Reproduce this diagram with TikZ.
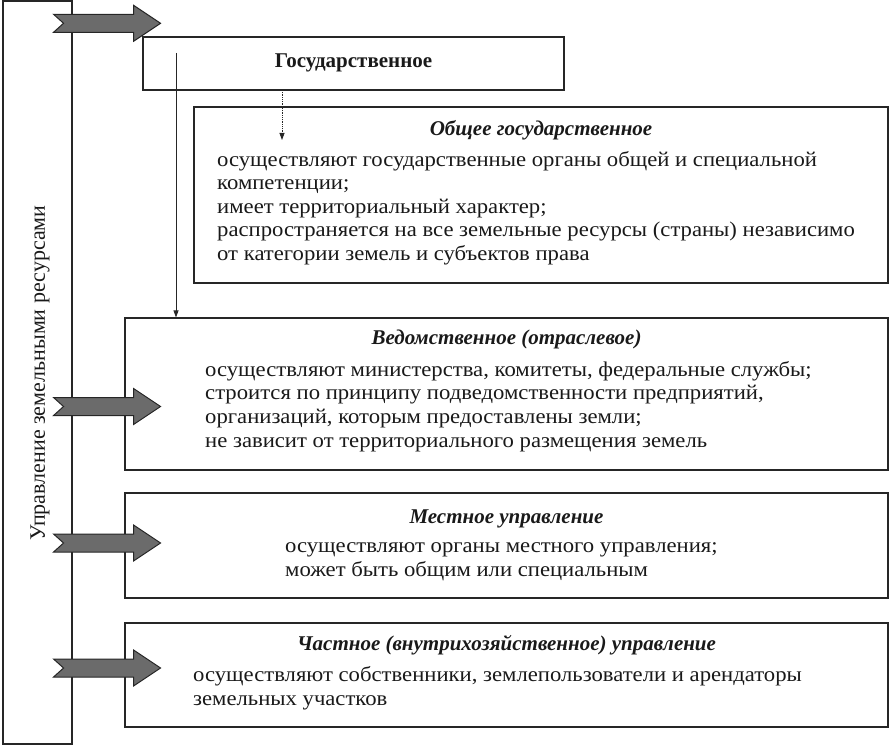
\documentclass[tikz,border=0pt]{standalone}
\usepackage{fontspec}
\setmainfont{Liberation Serif}
\newfontfamily\bodyfont[FakeStretch=1.08]{Liberation Serif}
\usetikzlibrary{arrows.meta}
\begin{document}
\begin{tikzpicture}[x=1pt,y=-1pt,
  box/.style={draw=black!85, line width=1.1pt, inner sep=0pt},
  bigarrow/.style={draw=black!85, fill=black!58, line width=1pt, line join=miter},
  ttl/.style={font=\fontsize{21}{23}\selectfont\bfseries\itshape, text=black!90, inner sep=0pt},
  body/.style={font=\bodyfont\fontsize{21}{23.6}\selectfont, align=left, text=black!90, inner sep=0pt},
  thin/.style={draw=black!85, line width=0.8pt, -{Triangle[length=7pt,width=5pt]}},
  pics/bigarr/.style={code={
    \draw[bigarrow] (-19,-9) -- (61,-9) -- (61,-18) -- (88,0) -- (61,18) -- (61,9)
      -- (-19,9) -- (-9,0) -- cycle;}}
]
\useasboundingbox (0,0) rectangle (890,751);

% left main box
\node[box, minimum width=69pt, minimum height=743pt] (main) at (37.5,372.5) {};
\node[rotate=90, font=\fontsize{22}{24}\selectfont, text=black!90] (mainlbl) at (40,373)
  {Управление земельными ресурсами};

% Государственное
\node[box, minimum width=421pt, minimum height=53pt] (gos) at (353.5,63.5) {};
\node[font=\fontsize{21}{23}\selectfont\bfseries, text=black!90, inner sep=0pt] (gost) at (353.5,63)
  {Государственное};

% Общее государственное
\node[box, minimum width=694pt, minimum height=176pt] (obs) at (541,195) {};
\node[ttl] (obst) at (541,130) {Общее государственное};
\node[body, anchor=west] (obsb) at (217,208) {осуществляют государственные органы общей и специальной\\
компетенции;\\
имеет территориальный характер;\\
распространяется на все земельные ресурсы (страны) независимо\\
от категории земель и субъектов права};

% Ведомственное
\node[box, minimum width=763pt, minimum height=152pt] (ved) at (506.5,394) {};
\node[ttl] (vedt) at (506.5,339) {Ведомственное (отраслевое)};
\node[body, anchor=west] (vedb) at (205,406.5) {осуществляют министерства, комитеты, федеральные службы;\\
строится по принципу подведомственности предприятий,\\
организаций, которым предоставлены земли;\\
не зависит от территориального размещения земель};

% Местное
\node[box, minimum width=763pt, minimum height=105pt] (mes) at (506.5,545.5) {};
\node[ttl] (mest) at (506.5,519) {Местное управление};
\node[body, anchor=west] (mesb) at (285,561.5) {осуществляют органы местного управления;\\
может быть общим или специальным};

% Частное
\node[box, minimum width=763pt, minimum height=104pt] (cha) at (506.5,675) {};
\node[ttl] (chat) at (506.5,645) {Частное (внутрихозяйственное) управление};
\node[body, anchor=west] (chab) at (193,688) {осуществляют собственники, землепользователи и арендаторы\\
земельных участков};

% thin connectors
\coordinate (vstart) at (176,53);
\draw[thin] (vstart) -- (vstart |- ved.north);
\coordinate (dstart) at (282,90);
\coordinate (dend) at (282,140);
\draw[thin, densely dotted] (dstart) -- (dend);

% big arrows
\pic at (main.east |- 0,23.3) {bigarr};
\pic at (main.east |- 0,406.5) {bigarr};
\pic at (main.east |- 0,543) {bigarr};
\pic at (main.east |- 0,668) {bigarr};
\end{tikzpicture}
\end{document}
